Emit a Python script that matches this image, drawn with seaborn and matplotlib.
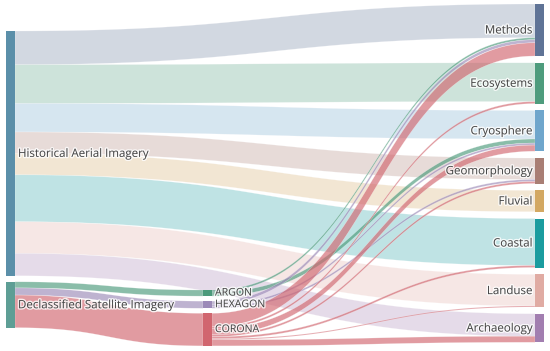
import numpy as np
import seaborn as sns
import matplotlib.pyplot as plt
import matplotlib.patheffects as pe
from matplotlib.colors import to_rgba

sns.set_theme(style="white")
plt.rcParams["font.family"] = ["Open Sans", "DejaVu Sans"]

# Nodes (column 0 = sources, 1 = declassified missions, 2 = topics)
node_labels = ["Historical Aerial Imagery", "Declassified Satellite Imagery",
               "ARGON", "HEXAGON", "CORONA",
               "Methods", "Ecosystems", "Cryosphere", "Geomorphology",
               "Fluvial", "Coastal", "Landuse", "Archaeology"]
node_column = [0, 0, 1, 1, 1, 2, 2, 2, 2, 2, 2, 2, 2]

# Links
link_source = [0, 0, 0, 0, 0, 0, 0, 0,
               1, 1, 1,
               2, 2,
               3, 3, 3,
               4, 4, 4, 4, 4, 4, 4]
link_target = [5, 6, 7, 8, 9, 10, 11, 12,
               2, 3, 4,
               5, 7,
               5, 7, 8,
               5, 6, 7, 8, 10, 11, 12]
link_value = [33, 38, 28, 21, 21, 46, 31, 22,
              6, 7, 32,
              2, 4,
              3, 2, 2,
              13, 2, 6, 2, 2, 1, 6]

# Styles
node_colors = ["#5B8FA9", "#5E9E95", "#4B9A7B", "#9C8AB8", "#D1666F",
               "#5F7396", "#4E9C7D", "#6FA6CC", "#A97E74", "#D3A862",
               "#1A9C9F", "#E0ABA3", "#A27EB0"]
col_x = [6, 203, 535]
col_top = [31, 290, 4]
col_gap = [6, 5, 6.8]
col_font = [8.3, 7.6, 8.3]
node_w = 9
scale = 1.02

n = len(node_labels)
inflow = np.zeros(n)
outflow = np.zeros(n)
for s, t, v in zip(link_source, link_target, link_value):
    outflow[s] += v
    inflow[t] += v
node_h = np.maximum(inflow, outflow) * scale

node_y = np.zeros(n)
for c in range(3):
    y = col_top[c]
    for i in range(n):
        if node_column[i] == c:
            node_y[i] = y
            y += node_h[i] + col_gap[c]
node_x = np.array([col_x[c] for c in node_column], dtype=float)
node_mid = node_y + node_h / 2

# offsets of each link at its source and target
idx = range(len(link_value))
src_off = {}
tgt_off = {}
for i in range(n):
    outs = sorted([k for k in idx if link_source[k] == i], key=lambda k: node_mid[link_target[k]])
    y = node_y[i]
    for k in outs:
        src_off[k] = y
        y += link_value[k] * scale
    ins = sorted([k for k in idx if link_target[k] == i], key=lambda k: node_mid[link_source[k]])
    y = node_y[i]
    for k in ins:
        tgt_off[k] = y
        y += link_value[k] * scale

fig = plt.figure(figsize=(5.5, 3.51), dpi=100)
ax = fig.add_axes([0, 0, 1, 1])
ax.set_xlim(0, 550)
ax.set_ylim(351, 0)
ax.axis("off")

t = np.linspace(0, 1, 80)
b0 = (1 - t) ** 3
b1 = 3 * (1 - t) ** 2 * t
b2 = 3 * (1 - t) * t ** 2
b3 = t ** 3


def bezier(x0, x1, y0, y1):
    xm = (x0 + x1) / 2
    xs = b0 * x0 + b1 * xm + b2 * xm + b3 * x1
    ys = (b0 + b1) * y0 + (b2 + b3) * y1
    return xs, ys


for k in idx:
    s, tg, v = link_source[k], link_target[k], link_value[k]
    x0 = node_x[s] + node_w
    x1 = node_x[tg]
    h = v * scale
    xa, ya = bezier(x0, x1, src_off[k], tgt_off[k])
    xb, yb = bezier(x0, x1, src_off[k] + h, tgt_off[k] + h)
    if s == 0:
        color = to_rgba(node_colors[tg], 0.28)
    elif s == 1:
        color = to_rgba(node_colors[tg], 0.65)
    else:
        color = to_rgba(node_colors[s], 0.65)
    ax.fill(np.concatenate([xa, xb[::-1]]), np.concatenate([ya, yb[::-1]]),
            color=color, lw=0.3, edgecolor=(1, 1, 1, 0.5))

halo = [pe.withStroke(linewidth=2, foreground="white", alpha=0.8)]
for i in range(n):
    c = node_column[i]
    ax.add_patch(plt.Rectangle((node_x[i], node_y[i]), node_w, node_h[i],
                               color=node_colors[i], lw=0))
    if c < 2:
        ax.text(node_x[i] + node_w + 3, node_mid[i], node_labels[i], fontsize=col_font[c],
                color="#444444", ha="left", va="center", path_effects=halo)
    else:
        ax.text(node_x[i] - 2.5, node_mid[i], node_labels[i], fontsize=col_font[c],
                color="#444444", ha="right", va="center", path_effects=halo)

fig.savefig("out.png", dpi=100)
